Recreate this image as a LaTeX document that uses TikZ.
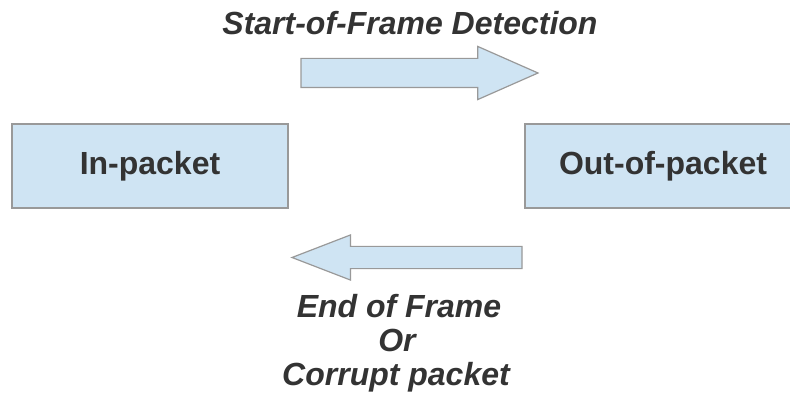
\documentclass[tikz,border=0pt]{standalone}
\usepackage{fontspec}
\setmainfont{Liberation Sans}
\usepackage{tikz}
\usetikzlibrary{shapes.arrows}

\definecolor{boxfill}{HTML}{CFE4F3}
\definecolor{boxline}{HTML}{999999}
\definecolor{textgray}{HTML}{333333}

\tikzset{
  statebox/.style={draw=boxline, fill=boxfill, line width=0.9pt, minimum width=207pt, minimum height=63pt, inner sep=0pt, font=\bfseries\fontsize{24}{28}\selectfont, text=textgray},
  blockarrow/.style={shape=single arrow, draw=boxline, fill=boxfill, line width=0.9pt, inner xsep=0pt, outer sep=0pt, single arrow head indent=0pt, anchor=tip},
  caption/.style={font=\bfseries\itshape\fontsize{24}{28}\selectfont, text=textgray, anchor=base, inner sep=0pt}
}

\begin{document}
\begin{tikzpicture}[x=0.75pt, y=-0.75pt]
\useasboundingbox (0,0) rectangle (790,399);
\clip (0,0) rectangle (790,399);

\node[statebox] (inpkt) at (150,166) {In-packet};
\node[statebox] (outpkt) at (663,166) {Out-of-packet};

\node[blockarrow, minimum height=177.75pt, inner ysep=10.5pt, single arrow head extend=9pt, single arrow tip angle=47.6] (sofarrow) at (538,73) {};
\node[blockarrow, minimum height=172.5pt, inner ysep=7.9pt, single arrow head extend=8.6pt, single arrow tip angle=42.2, shape border rotate=180] (eofarrow) at (292,257.5) {};

\node[caption] (soflabel) at (410,35) {Start-of-Frame Detection};
\node[caption] (eoflabel) at (399,318) {End of Frame};
\node[caption] (orlabel) at (397,352) {Or};
\node[caption] (corruptlabel) at (396,386) {Corrupt packet};
\end{tikzpicture}
\end{document}
